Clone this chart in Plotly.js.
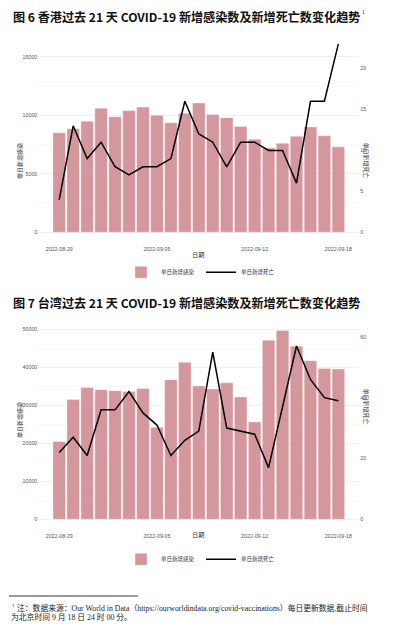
<!DOCTYPE html>
<html>
<head>
<meta charset="utf-8">
<script src="https://cdn.plot.ly/plotly-3.0.1.min.js"></script>
<style>
html,body{margin:0;padding:0;background:#fff;}
#chart{width:394px;height:630px;}
</style>
</head>
<body>
<div id="chart"></div>
<script>
// ---- data ----
const dates = ['2022-08-29','2022-08-30','2022-08-31','2022-09-01','2022-09-02','2022-09-03','2022-09-04',
  '2022-09-05','2022-09-06','2022-09-07','2022-09-08','2022-09-09','2022-09-10','2022-09-11',
  '2022-09-12','2022-09-13','2022-09-14','2022-09-15','2022-09-16','2022-09-17','2022-09-18'];
const hkCases = [8500, 8850, 9500, 10600, 9870, 10400, 10700, 10000, 9370, 10170, 11050,
  10070, 9800, 9050, 7950, 7200, 7600, 8200, 9000, 8250, 7300];
const hkDeaths = [4, 13, 9, 11, 8, 7, 8, 8, 9, 16, 12, 11, 8, 11, 11, 10, 10, 6, 16, 16, 23];
const twCases = [20500, 31500, 34650, 34100, 33850, 33600, 34400, 24200, 36750, 41300, 35100,
  34300, 35900, 32200, 25600, 47100, 49700, 45500, 41700, 39650, 39550];
const twDeaths = [22, 27, 21, 36, 36, 42, 35, 31, 21, 26, 29, 55, 30, 29, 28, 17, 37, 57, 46, 40, 39];
const xTicks = ['2022-08-29','2022-09-05','2022-09-12','2022-09-18'];
const casesName = '单日新增感染';
const deathsName = '单日新增死亡';
const xTitle = '日期';
const title1 = '图 6 香港过去 21 天 COVID-19 新增感染数及新增死亡数变化趋势';
const title2 = '图 7 台湾过去 21 天 COVID-19 新增感染数及新增死亡数变化趋势';
const noteMark = '1';
const footLine1 = '注：数据来源：Our World in Data（https://ourworldindata.org/covid-vaccinations）每日更新数据,截止时间';
const footLine2 = '为北京时间 9 月 18 日 24 时 00 分。';

// ---- styling ----
const W = 394, H = 630;
const px = v => v / W, py = v => 1 - v / H;
const barColor = '#d4979e';
const tickFont = {family: 'Liberation Sans, Arial, sans-serif', size: 5.3, color: '#555'};
const cjk = 'Noto Sans CJK SC, sans-serif';
const footFont = {family: 'Liberation Serif, Noto Sans CJK SC, serif', size: 7.8, color: '#222'};
const xRange = ['2022-08-27 12:00', '2022-09-19 12:00'];

const traces = [
  {type: 'bar', x: dates, y: hkCases, name: casesName, xaxis: 'x', yaxis: 'y', legend: 'legend',
   marker: {color: barColor, line: {color: 'rgba(255,255,255,0.7)', width: 0.5}}},
  {type: 'scatter', mode: 'lines', x: dates, y: hkDeaths, name: deathsName, xaxis: 'x', yaxis: 'y2', legend: 'legend',
   line: {color: '#000', width: 1.5}},
  {type: 'bar', x: dates, y: twCases, name: casesName, xaxis: 'x2', yaxis: 'y3', legend: 'legend2',
   marker: {color: barColor, line: {color: 'rgba(255,255,255,0.7)', width: 0.5}}},
  {type: 'scatter', mode: 'lines', x: dates, y: twDeaths, name: deathsName, xaxis: 'x2', yaxis: 'y4', legend: 'legend2',
   line: {color: '#000', width: 1.5}}
];

const xCommon = {type: 'date', range: xRange, domain: [px(38.3), px(359.3)], showgrid: false, zeroline: false,
  showline: false, ticks: '', ticklabelstandoff: 3, tickmode: 'array', tickvals: xTicks, ticktext: xTicks, tickfont: tickFont};
const yLeftCommon = {showgrid: true, gridcolor: '#e6e6e6', gridwidth: 0.6, zeroline: false, showline: false,
  ticks: '', tickformat: 'd', tickfont: tickFont, side: 'left'};
const yRightCommon = {showgrid: false, zeroline: false, showline: false, ticks: '', tickformat: 'd',
  tickfont: tickFont, side: 'right'};

const f1 = 700, f2 = 800;
const r1 = [-805, 16905], r2 = [-2487, 52224];

const legendCommon = {orientation: 'h', x: px(121), xanchor: 'left', yanchor: 'middle',
  entrywidth: 35, entrywidthmode: 'pixels',
  font: {family: cjk, size: 5.5, color: '#333'}, bgcolor: 'rgba(0,0,0,0)'};

const layout = {
  width: W, height: H, margin: {l: 0, r: 0, t: 0, b: 0},
  paper_bgcolor: '#fff', plot_bgcolor: '#fff',
  bargap: 0.1, showlegend: true,
  xaxis: Object.assign({}, xCommon, {anchor: 'y'}),
  xaxis2: Object.assign({}, xCommon, {anchor: 'y3'}),
  yaxis: Object.assign({}, yLeftCommon, {anchor: 'x', domain: [py(241.7), py(34.5)], range: r1, dtick: 5000,
    minor: {dtick: 2500, showgrid: true, gridcolor: '#f2f2f2', gridwidth: 0.5}}),
  yaxis2: Object.assign({}, yRightCommon, {anchor: 'x', overlaying: 'y', range: [r1[0] / f1, r1[1] / f1], dtick: 5}),
  yaxis3: Object.assign({}, yLeftCommon, {anchor: 'x2', domain: [py(528.8), py(320.8)], range: r2, dtick: 10000,
    minor: {dtick: 5000, showgrid: true, gridcolor: '#f2f2f2', gridwidth: 0.5}}),
  yaxis4: Object.assign({}, yRightCommon, {anchor: 'x2', overlaying: 'y3', range: [r2[0] / f2, r2[1] / f2], dtick: 20}),
  legend: Object.assign({}, legendCommon, {y: py(272.3)}),
  legend2: Object.assign({}, legendCommon, {y: py(559.3)}),
  annotations: [
    {text: title1, xref: 'paper', yref: 'paper', x: px(11), y: py(16.7), xanchor: 'left', yanchor: 'middle',
     showarrow: false, font: {family: cjk, size: 12.1, color: '#111', weight: 'bold'}},
    {text: noteMark, xref: 'paper', yref: 'paper', x: px(359.5), y: py(12), xanchor: 'left', yanchor: 'middle',
     showarrow: false, font: {family: 'Liberation Serif, serif', size: 5.5, color: '#111'}},
    {text: title2, xref: 'paper', yref: 'paper', x: px(11), y: py(302.7), xanchor: 'left', yanchor: 'middle',
     showarrow: false, font: {family: cjk, size: 12.1, color: '#111', weight: 'bold'}},
    // axis titles chart 1
    {text: casesName, xref: 'paper', yref: 'paper', x: px(12.5), y: py(141), textangle: -90,
     showarrow: false, font: {family: cjk, size: 6, color: '#333'}},
    {text: deathsName, xref: 'paper', yref: 'paper', x: px(373), y: py(140), textangle: 90,
     showarrow: false, font: {family: cjk, size: 6, color: '#333'}},
    {text: xTitle, xref: 'paper', yref: 'paper', x: px(198), y: py(254), showarrow: false,
     font: {family: cjk, size: 6.2, color: '#333'}},
    // axis titles chart 2
    {text: casesName, xref: 'paper', yref: 'paper', x: px(12.5), y: py(440), textangle: -90,
     showarrow: false, font: {family: cjk, size: 6, color: '#333'}},
    {text: deathsName, xref: 'paper', yref: 'paper', x: px(373), y: py(426), textangle: 90,
     showarrow: false, font: {family: cjk, size: 6, color: '#333'}},
    {text: xTitle, xref: 'paper', yref: 'paper', x: px(198), y: py(540.7), showarrow: false,
     font: {family: cjk, size: 6.2, color: '#333'}},
    // footnote
    {text: noteMark, xref: 'paper', yref: 'paper', x: px(9.5), y: py(605), xanchor: 'left', yanchor: 'middle',
     showarrow: false, font: {family: 'Liberation Serif, serif', size: 5, color: '#222'}},
    {text: footLine1, xref: 'paper', yref: 'paper', x: px(14.5), y: py(607.5), xanchor: 'left', yanchor: 'middle',
     showarrow: false, font: footFont},
    {text: footLine2, xref: 'paper', yref: 'paper', x: px(9), y: py(617), xanchor: 'left', yanchor: 'middle',
     showarrow: false, font: footFont}
  ],
  shapes: [
    {type: 'line', xref: 'paper', yref: 'paper', x0: px(9), x1: px(138), y0: py(596), y1: py(596),
     line: {color: '#000', width: 0.8}}
  ]
};

Plotly.newPlot('chart', traces, layout, {displayModeBar: false, staticPlot: true});
</script>
</body>
</html>
